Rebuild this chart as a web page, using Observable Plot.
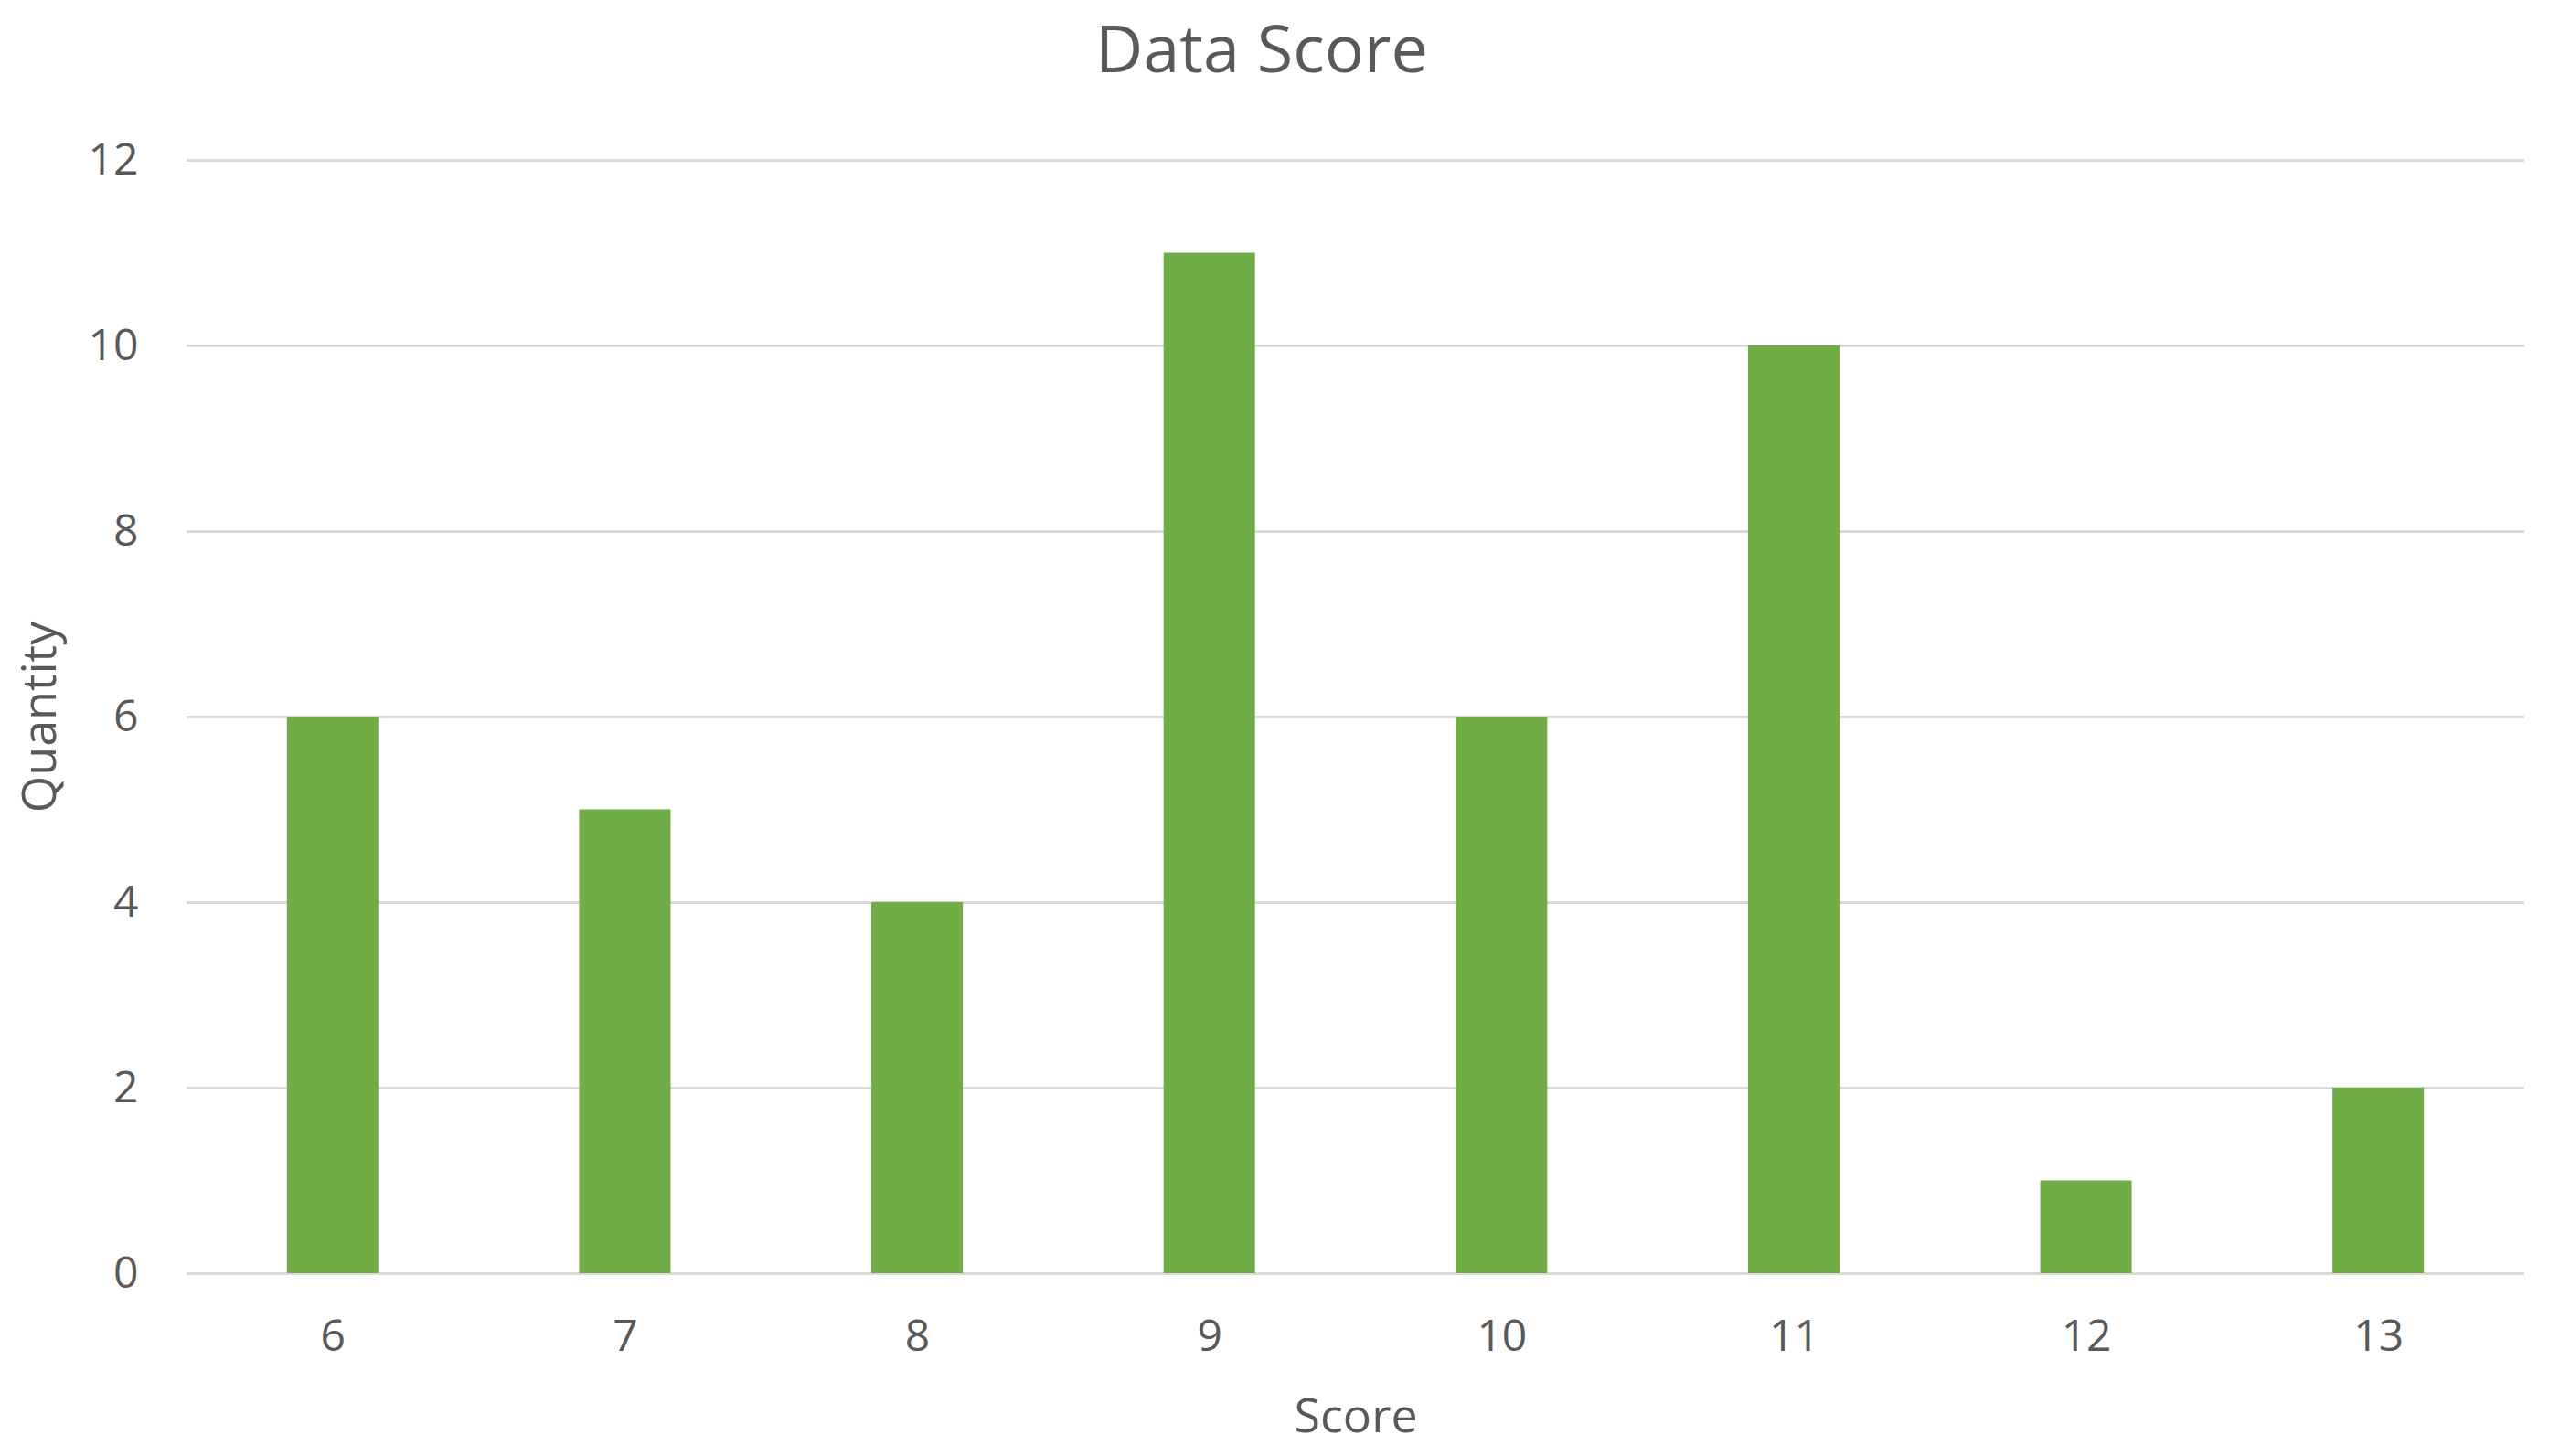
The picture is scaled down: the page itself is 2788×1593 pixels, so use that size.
<!DOCTYPE html>
<html>
<head>
<meta charset="utf-8">
<script src="https://cdn.jsdelivr.net/npm/d3@7"></script>
<script src="https://cdn.jsdelivr.net/npm/@observablehq/plot@0.6"></script>
<style>
  html, body { margin: 0; padding: 0; background: #fff; }
  body { width: 2788px; height: 1593px; overflow: hidden; font-family: "Open Sans", sans-serif; }
  #title { height: 110px; line-height: 1; text-align: center; color: #595959; font-size: 72px; padding-top: 15px; padding-right: 28px; box-sizing: border-box; }
  #chart svg { display: block; }
</style>
</head>
<body>
<div id="title">Data Score</div>
<div id="chart"></div>
<script>
const scores = [6, 7, 8, 9, 10, 11, 12, 13];
const quantities = [6, 5, 4, 11, 6, 10, 1, 2];
const yTicks = [0, 2, 4, 6, 8, 10, 12];
const xLabel = "Score";
const yLabel = "Quantity";

const data = scores.map((s, i) => ({score: s, qty: quantities[i]}));

const chart = Plot.plot({
  width: 2788,
  height: 1483,
  marginTop: 65,
  marginBottom: 200,
  marginLeft: 204,
  marginRight: 27,
  style: {fontFamily: "Open Sans, sans-serif", fontSize: "48px", color: "#595959", background: "#fff"},
  x: {type: "band", domain: scores, paddingInner: 0.687, paddingOuter: 0.3435, align: 0.5, round: false},
  y: {domain: [0, 12]},
  marks: [
    Plot.ruleY(yTicks, {stroke: "#D9D9D9", strokeWidth: 3}),
    Plot.barY(data, {x: "score", y: "qty", fill: "#70AD47"}),
    Plot.axisX({tickSize: 0, tickPadding: 50, label: null, fill: "#595959", fontSize: 48}),
    Plot.axisY({ticks: yTicks, tickSize: 0, tickPadding: 53, label: null, fill: "#595959", fontSize: 48}),
    Plot.text([xLabel], {frameAnchor: "bottom", dy: 157, text: d => d, fill: "#595959", fontSize: 52, lineAnchor: "middle"}),
    Plot.text([yLabel], {frameAnchor: "left", dx: -160, rotate: -90, text: d => d, fill: "#595959", fontSize: 52, lineAnchor: "middle", textAnchor: "middle"})
  ]
});
document.getElementById("chart").appendChild(chart);
</script>
</body>
</html>
